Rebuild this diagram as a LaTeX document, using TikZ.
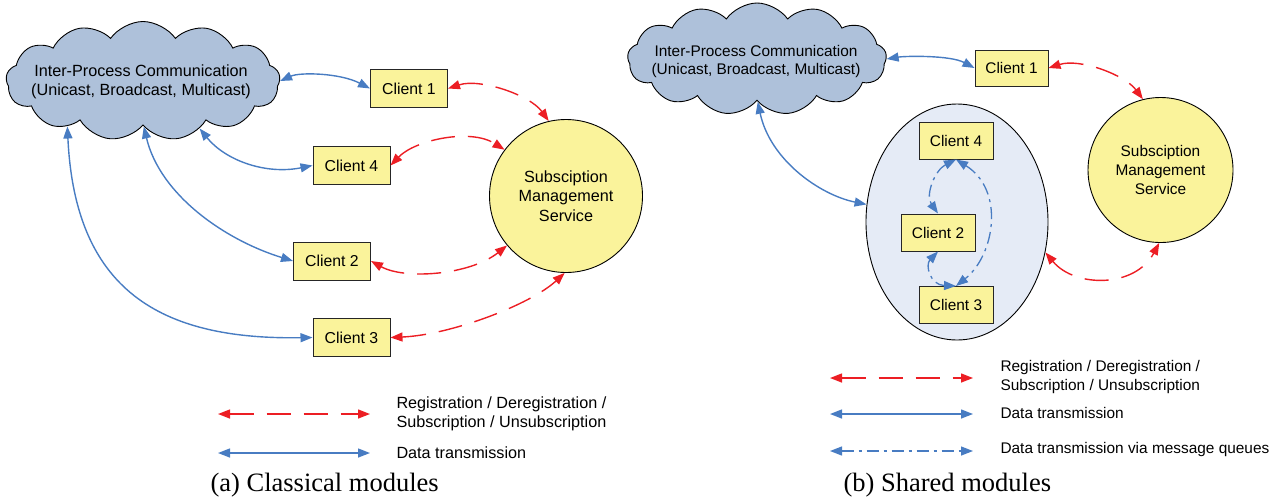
\documentclass[tikz,border=0pt]{standalone}
\usepackage{fontspec}
\setmainfont{Liberation Sans}
\newfontfamily\capfont{Liberation Serif}
\usetikzlibrary{shapes.symbols,shapes.geometric,arrows.meta}
\definecolor{cloudfill}{RGB}{174,193,218}
\definecolor{boxfill}{RGB}{250,243,155}
\definecolor{ellfill}{RGB}{229,235,246}
\definecolor{dblue}{RGB}{72,124,194}
\definecolor{rred}{RGB}{236,30,36}
\tikzset{
  txt/.style={font=\fontsize{16.2}{19.5}\selectfont},
  txtb/.style={font=\fontsize{15.4}{18.8}\selectfont},
  ipc/.style={cloud, cloud puffs=13, cloud puff arc=110, aspect=2.4, draw=black, line width=0.9pt, fill=cloudfill, inner sep=0pt},
  clientbox/.style={font=\fontsize{15.8}{19}\selectfont, draw=black!85, line width=1pt, fill=boxfill, minimum width=77pt, minimum height=38pt, inner sep=0pt},
  smsnode/.style={circle, draw=black, line width=0.9pt, fill=boxfill, inner sep=0pt, align=center},
  tipshape/.style={{Triangle[length=12pt,width=9pt]}-{Triangle[length=12pt,width=9pt]}},
  data/.style={tipshape, draw=dblue, line width=1.4pt},
  reg/.style={tipshape, draw=rred, line width=1.4pt, dash pattern=on 24pt off 13pt},
  mq/.style={tipshape, draw=dblue, line width=1.3pt, dash pattern=on 12pt off 5pt on 3pt off 5pt},
  legtext/.style={anchor=west, align=left},
  caption/.style={font=\capfont\fontsize{26.5}{30}\selectfont, anchor=west}
}
\begin{document}
\begin{tikzpicture}[x=1pt,y=-1pt]
\useasboundingbox (0,0) rectangle (1279,499);
% ---------- (a) Classical modules ----------
\node[ipc, minimum width=274pt, minimum height=119pt] (cloudA) at (143,81) {};
\node[txt, align=center] (cloudAtxt) at (141,82) {Inter-Process Communication\\(Unicast, Broadcast, Multicast)};
\node[clientbox] (c1A) at (409,88.5) {Client 1};
\node[clientbox] (c4A) at (351.5,165.5) {Client 4};
\node[clientbox] (c2A) at (332,261) {Client 2};
\node[clientbox] (c3A) at (351.5,337.5) {Client 3};
\node[smsnode, txt, minimum size=153pt] (smsA) at (566,196) {Subsciption\\Management\\Service};

\draw[data] (cloudA.east) .. controls (300,72) and (340,73) .. (c1A.west);
\draw[data] (cloudA.-40) .. controls (225,160) and (265,175) .. (c4A.west);
\draw[data] (cloudA.-89) .. controls (160,195) and (225,240) .. (c2A.west);
\draw[data] (cloudA.-149) .. controls (75,290) and (160,340) .. (c3A.west);

\draw[reg] (c1A.east) .. controls (480,78) and (530,95) .. (smsA.103);
\draw[reg] (c4A.east) .. controls (415,140) and (470,128) .. (smsA.143);
\draw[reg] (c2A.east) .. controls (405,280) and (470,275) .. (smsA.-140);
\draw[reg] (c3A.east) .. controls (450,335) and (530,305) .. (smsA.-91);

\coordinate (lAr1) at (218,414); \coordinate (lAr2) at (370,414);
\coordinate (lAb1) at (218,453); \coordinate (lAb2) at (370,453);
\draw[reg] (lAr1) -- (lAr2);
\draw[data] (lAb1) -- (lAb2);
\node[legtext, txt] (lAt1) at (393,414) {Registration / Deregistration /\\Subscription / Unsubscription};
\node[legtext, txt] (lAt2) at (393,453) {Data transmission};
\node[caption] (capA) at (207,485) {(a) Classical modules};

% ---------- (b) Shared modules ----------
\node[ipc, minimum width=259pt, minimum height=112pt] (cloudB) at (757,59) {};
\node[txtb, align=center] (cloudBtxt) at (756,61.5) {Inter-Process Communication\\(Unicast, Broadcast, Multicast)};
\node[clientbox, txtb, minimum width=73pt, minimum height=36pt] (c1B) at (1011.5,68) {Client 1};
\node[smsnode, txtb, minimum size=145pt] (smsB) at (1160.5,170) {Subsciption\\Management\\Service};
\node[ellipse, draw=black, line width=0.9pt, fill=ellfill, minimum width=182pt, minimum height=236pt, inner sep=0pt] (ellB) at (957,222) {};
\node[clientbox, txtb, minimum width=74pt, minimum height=37pt] (c4B) at (956,140.5) {Client 4};
\node[clientbox, txtb, minimum width=74pt, minimum height=37pt] (c2B) at (938,232.5) {Client 2};
\node[clientbox, txtb, minimum width=74pt, minimum height=37pt] (c3B) at (956,305) {Client 3};

\draw[data] (cloudB.east) .. controls (905,56) and (950,55) .. (c1B.west);
\draw[data] (cloudB.-89) .. controls (770,160) and (820,195) .. (ellB.169);

\draw[reg] (c1B.east) .. controls (1080,58) and (1125,75) .. (smsB.104);
\draw[reg] (ellB.-19) .. controls (1075,288) and (1135,288) .. (smsB.-91);

\draw[mq] (c4B.south) .. controls (935,170) and (925,195) .. (c2B.north);
\draw[mq] (c4B.south) .. controls (1005,190) and (995,255) .. (c3B.north);
\draw[mq] (c2B.south) .. controls (925,265) and (930,285) .. (c3B.north);

\coordinate (lBr1) at (830,378); \coordinate (lBr2) at (973,378);
\coordinate (lBb1) at (830,414); \coordinate (lBb2) at (973,414);
\coordinate (lBq1) at (830,451); \coordinate (lBq2) at (973,451);
\draw[reg] (lBr1) -- (lBr2);
\draw[data] (lBb1) -- (lBb2);
\draw[mq] (lBq1) -- (lBq2);
\node[legtext, txtb] (lBt1) at (997,377) {Registration / Deregistration /\\Subscription / Unsubscription};
\node[legtext, txtb] (lBt2) at (997,413) {Data transmission};
\node[legtext, txtb] (lBt3) at (997,450) {Data transmission via message queues};
\node[caption] (capB) at (840,485) {(b) Shared modules};
\end{tikzpicture}
\end{document}
